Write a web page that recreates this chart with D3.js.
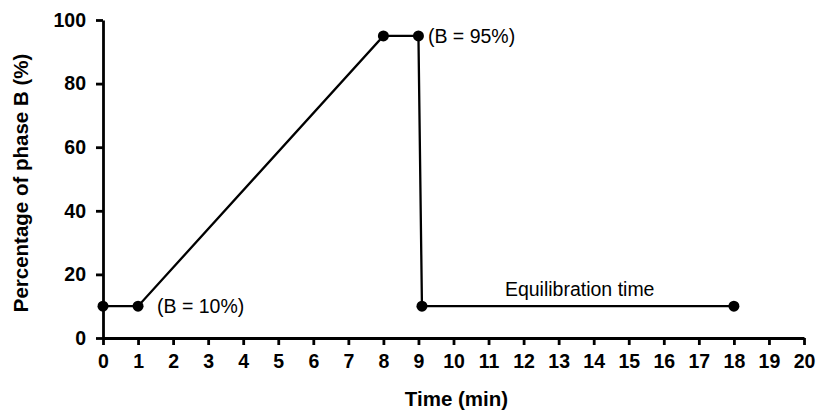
<!DOCTYPE html>
<html>
<head>
<meta charset="utf-8">
<script src="https://cdn.jsdelivr.net/npm/d3@7"></script>
<style>
  body { margin: 0; background: #fff; }
  svg { display: block; font-family: "Liberation Sans", Arial, sans-serif; }
  .axis path, .axis line { stroke: #000; stroke-width: 2.8px; }
  .axis text { font-size: 19.5px; font-weight: bold; fill: #000; }
  .title { font-size: 20.5px; font-weight: bold; }
  .note { font-size: 19.5px; }
</style>
</head>
<body>
<svg width="817" height="412"></svg>
<script>
// gradient program
const times = [0, 1, 8, 9, 9.1, 18];
const percentB = [10, 10, 95, 95, 10, 10];
const xTicks = d3.range(0, 21);
const yTicks = [0, 20, 40, 60, 80, 100];
const notes = [
  { text: "(B = 10%)", t: 1.54, b: 10, anchor: "start" },
  { text: "(B = 95%)", t: 9.27, b: 95, anchor: "start" },
  { text: "Equilibration time", t: 13.6, b: 15.5, anchor: "middle" }
];

let svg = d3.select("svg");
let margin = { left: 103, right: 13, top: 20, bottom: 74 };
let width = +svg.attr("width"), height = +svg.attr("height");

let x = d3.scaleLinear().domain([0, 20]).range([margin.left, width - margin.right]);
let y = d3.scaleLinear().domain([0, 100]).range([height - margin.bottom, margin.top]);

svg.append("g")
  .attr("class", "axis")
  .attr("transform", "translate(0," + y(0) + ")")
  .call(d3.axisBottom(x).tickValues(xTicks).tickSize(7).tickSizeOuter(0).tickPadding(9));

svg.append("g")
  .attr("class", "axis")
  .attr("transform", "translate(" + x(0) + ",0)")
  .call(d3.axisLeft(y).tickValues(yTicks).tickSize(7).tickSizeOuter(0).tickPadding(10));

let pts = times.map((t, i) => [t, percentB[i]]);

svg.append("path")
  .datum(pts)
  .attr("fill", "none")
  .attr("stroke", "#000")
  .attr("stroke-width", 2.3)
  .attr("d", d3.line().x(d => x(d[0])).y(d => y(d[1])));

svg.selectAll("circle.pt")
  .data(pts)
  .enter().append("circle")
  .attr("class", "pt")
  .attr("cx", d => x(d[0]))
  .attr("cy", d => y(d[1]))
  .attr("r", 5.5)
  .attr("fill", "#000");

svg.selectAll("text.note")
  .data(notes)
  .enter().append("text")
  .attr("class", "note")
  .attr("x", d => x(d.t))
  .attr("y", d => y(d.b))
  .attr("dy", "0.35em")
  .attr("text-anchor", d => d.anchor)
  .text(d => d.text);

svg.append("text")
  .attr("class", "title")
  .attr("x", (x(0) + x(20)) / 2 + 3)
  .attr("y", 406)
  .attr("text-anchor", "middle")
  .text("Time (min)");

svg.append("text")
  .attr("class", "title")
  .attr("transform", "translate(28,183) rotate(-90)")
  .attr("text-anchor", "middle")
  .text("Percentage of phase B (%)");
</script>
</body>
</html>
